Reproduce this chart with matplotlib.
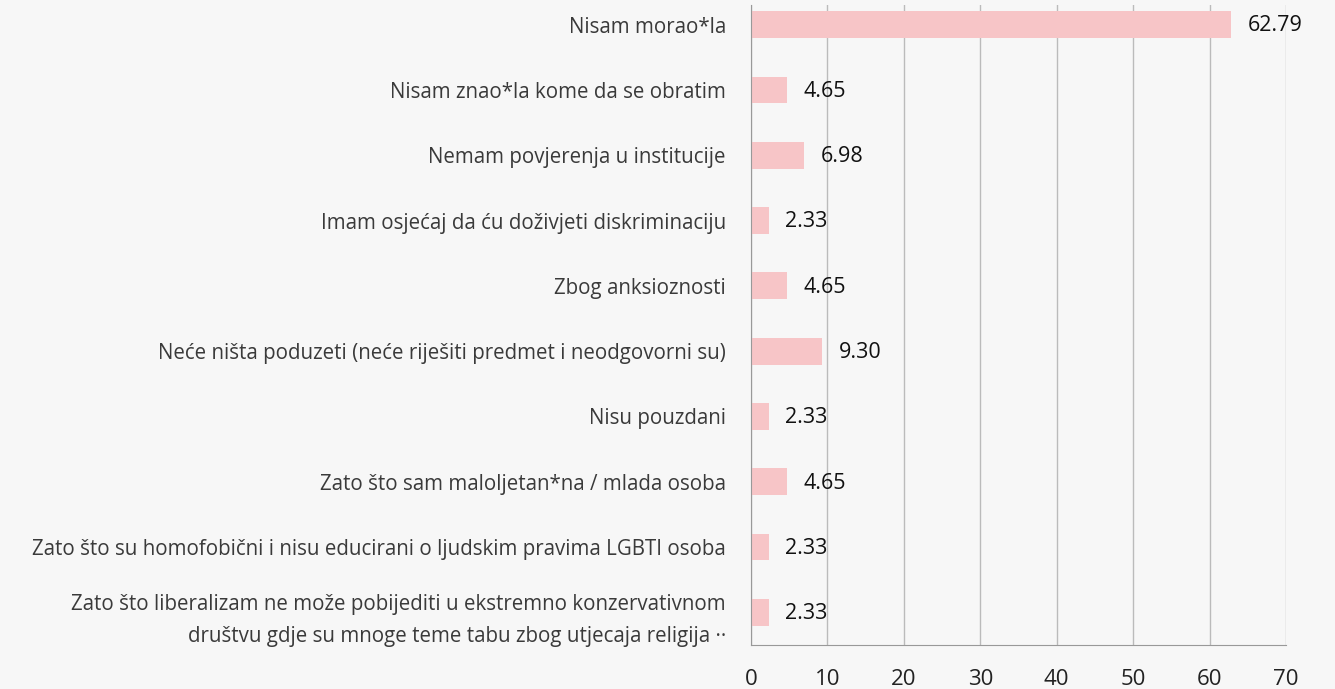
import matplotlib
matplotlib.use("Agg")
import matplotlib.pyplot as plt

categories = [
    "Nisam morao*la",
    "Nisam znao*la kome da se obratim",
    "Nemam povjerenja u institucije",
    "Imam osjećaj da ću doživjeti diskriminaciju",
    "Zbog anksioznosti",
    "Neće ništa poduzeti (neće riješiti predmet i neodgovorni su)",
    "Nisu pouzdani",
    "Zato što sam maloljetan*na / mlada osoba",
    "Zato što su homofobični i nisu educirani o ljudskim pravima LGBTI osoba",
    "Zato što liberalizam ne može pobijediti u ekstremno konzervativnom\ndruštvu gdje su mnoge teme tabu zbog utjecaja religija ··",
]
values = [62.79, 4.65, 6.98, 2.33, 4.65, 9.30, 2.33, 4.65, 2.33, 2.33]
xticks = [0, 10, 20, 30, 40, 50, 60, 70]

plt.rcParams['font.family'] = ['Open Sans', 'DejaVu Sans']
bg = "#f7f7f7"
fig = plt.figure(figsize=(13.35, 6.89), dpi=100, facecolor=bg)
ax = fig.add_axes([751/1335, 1 - 645/689, (1286-751)/1335, 640/689])
ax.set_facecolor(bg)

y = list(range(len(categories)))
ax.barh(y, values, height=0.41, color="#f7c5c7", zorder=2)
for yi, v in zip(y, values):
    ax.annotate(f"{v:.2f}", (v, yi), xytext=(12, -1), textcoords="offset points",
                va="center", ha="left", fontsize=15.5, color="#111111")

ax.set_xlim(0, 70)
ax.set_ylim(9.5, -0.3)
ax.set_xticks(xticks)
ax.set_xticklabels([str(t) for t in xticks])
ax.set_yticks(y)
ax.set_yticklabels(categories, fontsize=14.8, color="#3a3a3a", linespacing=1.7)
ax.grid(axis="x", color="#bbbbbb", linewidth=1, zorder=0)
ax.tick_params(axis="y", length=0, pad=18)
ax.tick_params(axis="x", length=0, pad=17, labelsize=16, labelcolor="#222222")
for s in ["top", "right"]:
    ax.spines[s].set_visible(False)
for s in ["left", "bottom"]:
    ax.spines[s].set_color("#999999")

fig.savefig("out.png", dpi=100, facecolor=bg)
